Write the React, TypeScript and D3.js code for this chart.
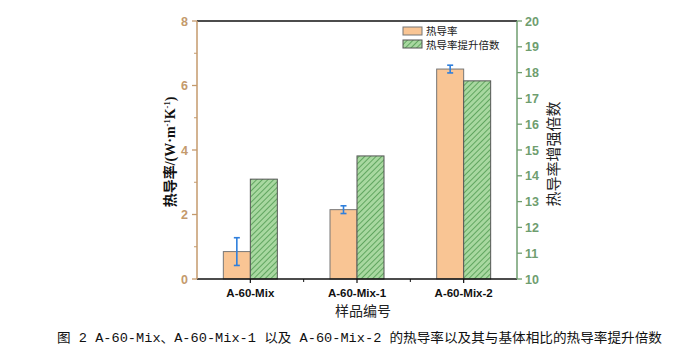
import React from "react";
import * as d3 from "d3";

const categories = ["A-60-Mix", "A-60-Mix-1", "A-60-Mix-2"];
const conductivity = [0.85, 2.15, 6.51];
const conductivityErr = [0.43, 0.12, 0.12];
const enhancement = [13.87, 14.77, 17.68];
const leftTicks = [0, 2, 4, 6, 8];
const leftMinor = [1, 3, 5, 7];
const rightTicks = [10, 11, 12, 13, 14, 15, 16, 17, 18, 19, 20];
const legendLabels = ["热导率", "热导率提升倍数"];

const W = 680, H = 354;
const L = 197, R = 517, T = 21, B = 279;
const tan = "#c49a6c";
const green = "#6f9e6f";

export default function App() {
  const x = d3.scaleBand().domain(categories).range([L, R]).paddingInner(0).paddingOuter(0);
  const yL = d3.scaleLinear().domain([0, 8]).range([B, T]);
  const yR = d3.scaleLinear().domain([10, 20]).range([B, T]);
  const bw = 27;
  const font = "'Liberation Sans', Arial, sans-serif";
  const serif = "'Liberation Serif', 'Times New Roman', serif";
  const cjk = "'Noto Sans CJK SC', sans-serif";
  return (
    <svg width={W} height={H} style={{ position: "absolute", left: 0, top: 0, background: "#fff" }}>
      <defs>
        <pattern id="hatch" patternUnits="userSpaceOnUse" width="4" height="4" patternTransform="rotate(45)">
          <rect width="4" height="4" fill="#a8d8a0" />
          <line x1="0" y1="0" x2="0" y2="4" stroke="#4f9a4f" strokeWidth="1.6" />
        </pattern>
      </defs>
      {/* bars */}
      {categories.map((c, i) => {
        const cx = x(c)! + x.bandwidth() / 2;
        return (
          <g key={c}>
            <rect x={cx - bw} y={yL(conductivity[i])} width={bw} height={B - yL(conductivity[i])}
              fill="#f9c594" stroke="#777" strokeWidth={1} />
            <rect x={cx} y={yR(enhancement[i])} width={bw} height={B - yR(enhancement[i])}
              fill="url(#hatch)" stroke="#555" strokeWidth={1} />
            <g stroke="#2f7fdc" strokeWidth={1.6}>
              <line x1={cx - bw / 2} x2={cx - bw / 2} y1={yL(conductivity[i] - conductivityErr[i])} y2={yL(conductivity[i] + conductivityErr[i])} />
              <line x1={cx - bw / 2 - 3} x2={cx - bw / 2 + 3} y1={yL(conductivity[i] - conductivityErr[i])} y2={yL(conductivity[i] - conductivityErr[i])} />
              <line x1={cx - bw / 2 - 3} x2={cx - bw / 2 + 3} y1={yL(conductivity[i] + conductivityErr[i])} y2={yL(conductivity[i] + conductivityErr[i])} />
            </g>
          </g>
        );
      })}
      {/* frame */}
      <line x1={L} x2={R} y1={T} y2={T} stroke="#111" strokeWidth={1.5} />
      <line x1={L} x2={R} y1={B} y2={B} stroke="#111" strokeWidth={1.5} />
      <line x1={L} x2={L} y1={T} y2={B} stroke={tan} strokeWidth={1.5} />
      <line x1={R} x2={R} y1={T} y2={B} stroke={green} strokeWidth={1.5} />
      {/* x ticks */}
      {categories.map((c, i) => {
        const cx = x(c)! + x.bandwidth() / 2;
        return (
          <g key={c}>
            <line x1={cx} x2={cx} y1={B} y2={B + 4} stroke="#111" strokeWidth={1.2} />
            <text x={cx} y={297} textAnchor="middle" fontFamily={font} fontWeight="bold" fontSize={11.5} fill="#111">{c}</text>
            {i > 0 && <line x1={x(c)!} x2={x(c)!} y1={B} y2={B + 3} stroke="#111" strokeWidth={1} />}
          </g>
        );
      })}
      <text x={363} y={316} textAnchor="middle" fontFamily={cjk} fontSize={14} fill="#222">样品编号</text>
      {/* left axis */}
      {leftTicks.map(t => (
        <g key={t}>
          <line x1={L - 5} x2={L} y1={yL(t)} y2={yL(t)} stroke={tan} strokeWidth={1.3} />
          <text x={L - 9} y={yL(t) + 4.5} textAnchor="end" fontFamily={font} fontWeight="bold" fontSize={12.5} fill={tan}>{t}</text>
        </g>
      ))}
      {leftMinor.map(t => (
        <line key={t} x1={L - 3} x2={L} y1={yL(t)} y2={yL(t)} stroke={tan} strokeWidth={1} />
      ))}
      <text transform={`translate(175,152) rotate(-90)`} textAnchor="middle" fontFamily={cjk} fontWeight="bold" fontSize={14} fill="#111">
        热导率<tspan fontFamily={serif}>/(W·m</tspan><tspan fontFamily={serif} fontSize={8.5} dy={-5}>-1</tspan><tspan fontFamily={serif} dy={5}>K</tspan><tspan fontFamily={serif} fontSize={8.5} dy={-5}>-1</tspan><tspan fontFamily={serif} dy={5}>)</tspan>
      </text>
      {/* right axis */}
      {rightTicks.map(t => (
        <g key={t}>
          <line x1={R} x2={R + 5} y1={yR(t)} y2={yR(t)} stroke={green} strokeWidth={1.3} />
          <text x={R + 8} y={yR(t) + 4.5} textAnchor="start" fontFamily={font} fontWeight="bold" fontSize={12.5} fill={green}>{t}</text>
        </g>
      ))}
      <text transform={`translate(559,154) rotate(-90)`} textAnchor="middle" fontFamily={cjk} fontSize={15} fill="#222">热导率增强倍数</text>
      {/* legend */}
      <rect x={403} y={27} width={19} height={8} fill="#f9c594" stroke="#777" />
      <rect x={403} y={40} width={19} height={8} fill="url(#hatch)" stroke="#555" />
      <text x={426} y={35} fontFamily={cjk} fontSize={10.5} fill="#222">{legendLabels[0]}</text>
      <text x={426} y={48.5} fontFamily={cjk} fontSize={10.5} fill="#222">{legendLabels[1]}</text>
      {/* caption */}
      <text x={57} y={342} fontFamily={"'Liberation Mono', 'Noto Sans CJK SC', monospace"} fontSize={13} fill="#111" textLength={605} lengthAdjust="spacingAndGlyphs">
        图 2 A-60-Mix、A-60-Mix-1 以及 A-60-Mix-2 的热导率以及其与基体相比的热导率提升倍数
      </text>
    </svg>
  );
}
